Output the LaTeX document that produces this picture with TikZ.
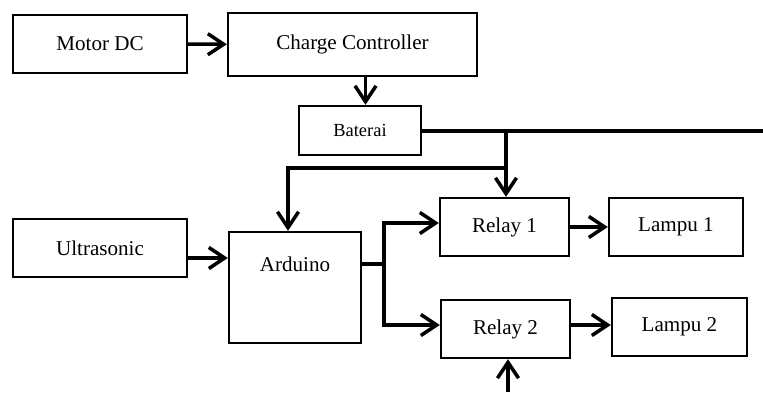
\documentclass[tikz,border=0pt]{standalone}
\usepackage{fontspec}
\setmainfont{Liberation Serif}
\usetikzlibrary{arrows.meta,positioning,calc}

\begin{document}
\begin{tikzpicture}[
    x=0.02cm, y=-0.02cm,
    auto,
    block/.style={rectangle, draw, line width=1.4pt, text centered, minimum height=1.16cm, font=\fontsize{12}{14}\selectfont},
    arrow/.style={line width=2pt,-{Straight Barb[length=9pt,width=12pt,line width=2pt]}},
    line/.style={line width=2pt}
]
\useasboundingbox (0,0) rectangle (763,392);

% Define nodes
\node [block, minimum width=3.48cm] (motor) at (100,44) {Motor DC};
\node [block, minimum width=4.98cm, minimum height=1.26cm] (charge) at (352.5,44.5) {Charge Controller};
\node [block, minimum width=2.44cm, minimum height=0.98cm, font=\fontsize{10.5}{12}\selectfont] (baterai) at (360,130.5) {Baterai};
\node [block, minimum width=3.48cm] (ultra) at (100,248) {Ultrasonic};
\node [block, minimum width=2.64cm, minimum height=2.22cm, label={[yshift=0.46cm, font=\fontsize{12}{14}\selectfont]center:Arduino}] (arduino) at (295,287.5) {};
\node [block, minimum width=2.58cm] (relay1) at (504.5,227) {Relay 1};
\node [block, minimum width=2.58cm] (relay2) at (505.5,329) {Relay 2};
\node [block, minimum width=2.68cm] (lampu1) at (676,227) {Lampu 1};
\node [block, minimum width=2.70cm] (lampu2) at (679.5,327) {Lampu 2};

% Junctions and free ends
\coordinate (edge) at (763,131);
\coordinate (tap1) at (506,131);
\coordinate (tap2) at (506,168);
\coordinate (split) at (384,264);
\coordinate (supply) at (508,392);

% Draw arrows
\draw [arrow] (motor) -- (charge);
\draw [arrow] ([xshift=0.26cm]charge.south) -- ([xshift=0.26cm]charge.south |- baterai.north);
\draw [line] (baterai.east |- edge) -- (edge);
\draw [arrow] (tap1) -- (tap1 |- relay1.north);
\draw [arrow] (tap2) -| ([xshift=-0.14cm]arduino.north);
\draw [arrow] ([yshift=-0.2cm]ultra.east) -- ([yshift=-0.2cm]ultra.east -| arduino.west);
\draw [line] (arduino.east |- split) -- (split);
\draw [arrow] (split) |- ([yshift=0.08cm]relay1.west);
\draw [arrow] (split) |- (relay2.west |- 0,325);
\draw [arrow] (relay1) -- (lampu1);
\draw [arrow] (relay2.east |- 0,325) -- (lampu2.west |- 0,325);
\draw [arrow] (supply) -- (supply |- relay2.south);

\end{tikzpicture}
\end{document}
